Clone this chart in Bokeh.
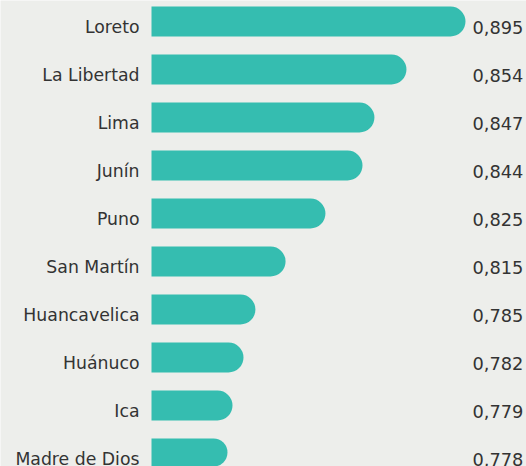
from bokeh.plotting import figure
from bokeh.models import ColumnDataSource, Range1d
from bokeh.core.properties import value
from bokeh.embed import file_html
from bokeh.resources import INLINE

regions = ["Loreto", "La Libertad", "Lima", "Junín", "Puno", "San Martín",
           "Huancavelica", "Huánuco", "Ica", "Madre de Dios"]
scores = [0.895, 0.854, 0.847, 0.844, 0.825, 0.815, 0.785, 0.782, 0.779, 0.778]
score_labels = ["0,895", "0,854", "0,847", "0,844", "0,825", "0,815",
                "0,785", "0,782", "0,779", "0,778"]
# bar lengths as drawn in the reference (relative, Loreto = 100)
bar_lengths = [100, 81.2, 71.0, 67.2, 55.4, 42.7, 33.1, 29.3, 25.8, 24.2]

BG = "#edeeeb"
BAR = "#35bdb0"
TXT = "#333333"
FONT = "DejaVu Sans"

src = ColumnDataSource(dict(
    y=list(range(len(regions))),
    region=regions,
    length=bar_lengths,
    label=score_labels,
    zero=[0] * len(regions),
    lx=[max(bar_lengths)] * len(regions),
))

p = figure(width=526, height=466, output_backend="svg", toolbar_location=None,
           x_range=Range1d(-48.09, 119.43), y_range=Range1d(9.2708, -0.4375),
           min_border=0, background_fill_color=BG, border_fill_color=BG)
p.axis.visible = False
p.grid.visible = False
p.outline_line_color = None

p.hbar(y="y", left="zero", right="length", height=0.625, source=src,
       fill_color=BAR, line_color=None, border_radius=(0, 15, 15, 0))

p.text(x="zero", y="y", text="region", source=src, x_offset=-12, y_offset=5.5,
       text_align="right", text_baseline="alphabetic", text_color=TXT,
       text_font=value(FONT), text_font_size="17.3px")
p.text(x="lx", y="y", text="label", source=src, x_offset=7, y_offset=5.5,
       text_align="left", text_baseline="alphabetic", text_color=TXT,
       text_font=value(FONT), text_font_size="17.8px")

open("out.html", "w").write(file_html(p, INLINE))
